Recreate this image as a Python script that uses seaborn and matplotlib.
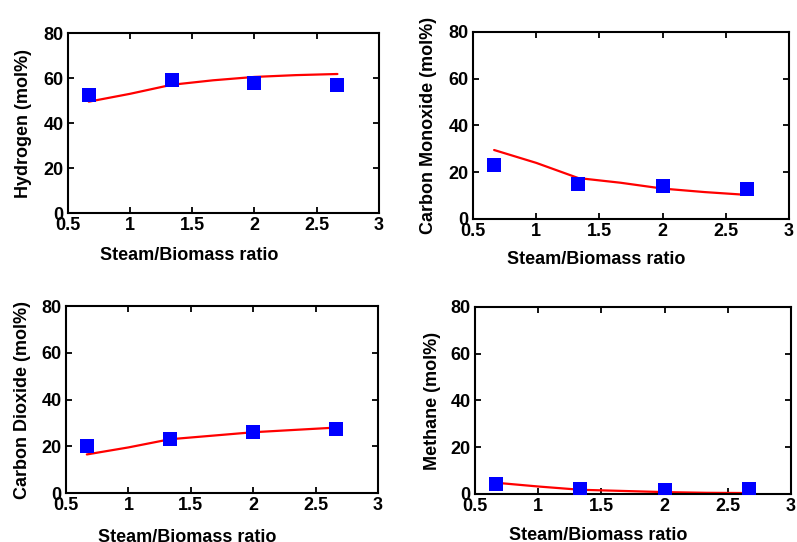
import matplotlib
matplotlib.use("Agg")
import matplotlib.pyplot as plt
import seaborn as sns
import pandas as pd

sns.set_theme(style="ticks")
plt.rcParams["font.family"] = ["Liberation Sans", "DejaVu Sans"]
plt.rcParams["font.weight"] = "bold"
plt.rcParams["text.color"] = "black"
plt.rcParams["axes.labelcolor"] = "black"

# steam/biomass ratios for the experiments
ratio_exp = [0.667, 1.333, 2.0, 2.667]
# model curve positions
ratio_model = [0.667, 1.0, 1.333, 1.667, 2.0, 2.333, 2.667]

h2_exp = [52.5, 59.0, 58.0, 57.0]
h2_model = [49.5, 53.0, 57.0, 59.0, 60.5, 61.3, 61.8]

co_exp = [23.0, 15.0, 14.0, 13.0]
co_model = [29.5, 24.0, 17.5, 15.5, 13.0, 11.5, 10.3]

co2_exp = [20.0, 23.0, 26.0, 27.5]
co2_model = [16.5, 19.5, 23.0, 24.5, 26.0, 27.0, 28.0]

ch4_exp = [4.2, 2.3, 1.8, 2.3]
ch4_model = [4.8, 3.2, 1.8, 1.3, 0.8, 0.5, 0.4]

panels = [
    ("Hydrogen (mol%)", h2_exp, h2_model,
     [0.0853, 0.607, 0.390, 0.332], (-0.116, -0.19)),
    ("Carbon Monoxide (mol%)", co_exp, co_model,
     [0.5935, 0.596, 0.3965, 0.345], (-0.114, -0.171)),
    ("Carbon Dioxide (mol%)", co2_exp, co2_model,
     [0.0828, 0.0904, 0.3915, 0.345], (-0.112, -0.193)),
    ("Methane (mol%)", ch4_exp, ch4_model,
     [0.596, 0.0886, 0.3965, 0.345], (-0.108, -0.176)),
]

fig = plt.figure(figsize=(7.97, 5.42), dpi=100)

for ylabel, exp_vals, model_vals, rect, (ylx, xly) in panels:
    ax = fig.add_axes(rect)
    model = pd.DataFrame({"ratio": ratio_model, "value": model_vals})
    exp = pd.DataFrame({"ratio": ratio_exp, "value": exp_vals})
    sns.lineplot(data=model, x="ratio", y="value", color="#ff0000",
                 linewidth=1.6, ax=ax, zorder=2)
    sns.scatterplot(data=exp, x="ratio", y="value", color="#0000ff",
                    marker="s", s=95, linewidth=0, ax=ax, zorder=3)
    ax.set_xlim(0.5, 3)
    ax.set_ylim(0, 80)
    ax.set_xticks([0.5, 1, 1.5, 2, 2.5, 3])
    ax.set_xticklabels(["0.5", "1", "1.5", "2", "2.5", "3"])
    ax.set_yticks([0, 20, 40, 60, 80])
    ax.tick_params(direction="in", length=4, width=1.3, labelsize=13,
                   top=True, right=True, pad=3, colors="black")
    for lab in ax.get_xticklabels() + ax.get_yticklabels():
        lab.set_fontweight("bold")
    for sp in ax.spines.values():
        sp.set_linewidth(1.5)
        sp.set_color("black")
    ax.set_xlabel("Steam/Biomass ratio", fontsize=13, fontweight="bold")
    ax.set_ylabel(ylabel, fontsize=13, fontweight="bold")
    ax.xaxis.set_label_coords(0.39, xly)
    ax.yaxis.set_label_coords(ylx, 0.5)

fig.savefig("out.png", dpi=100, facecolor="white")
